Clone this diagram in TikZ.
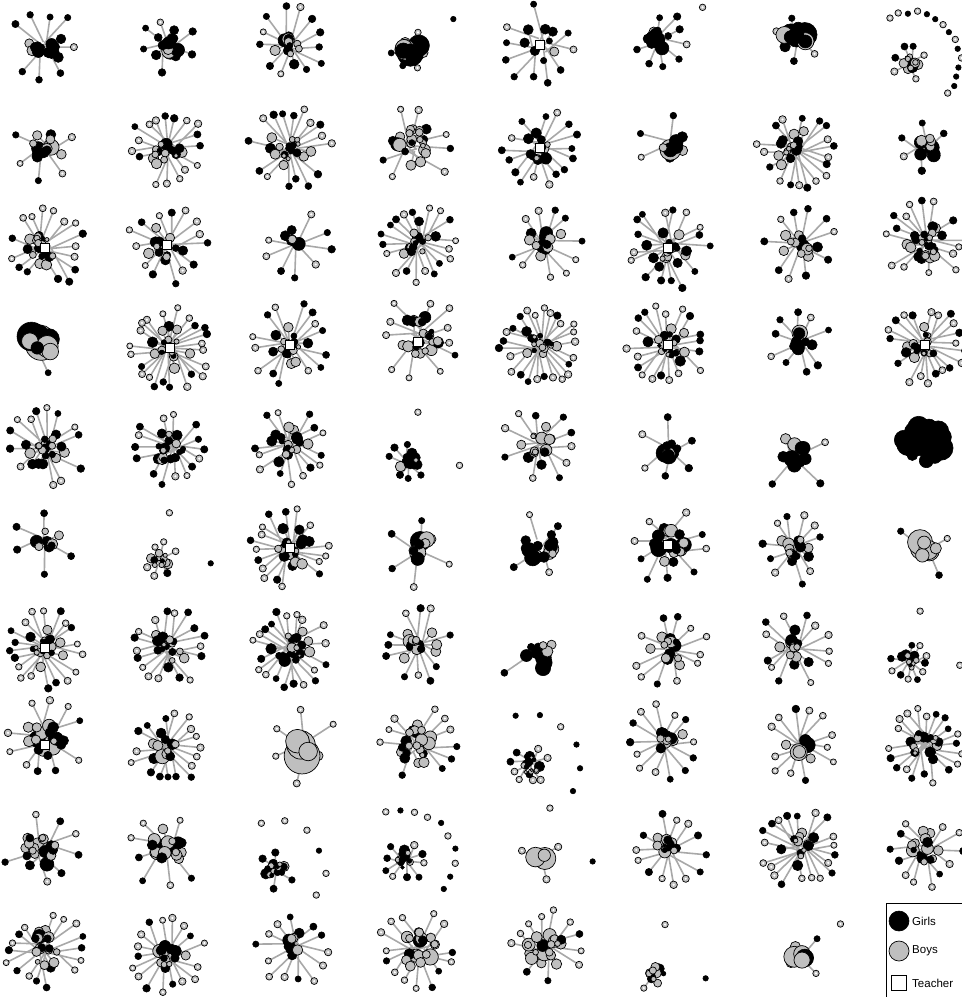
\documentclass[tikz,border=0pt]{standalone}
\usepackage{fontspec}
\setmainfont{Liberation Sans}
\definecolor{boyc}{gray}{0.75}
\definecolor{edgec}{gray}{0.66}
\tikzset{
 girl/.style={circle,fill=black,draw=black,line width=0.6pt,inner sep=0pt},
 boy/.style={circle,fill=boyc,draw=black,line width=0.7pt,inner sep=0pt},
 hole/.style={circle,fill=white,inner sep=0pt,minimum size=2.4pt},
 link/.style={draw=edgec,line width=1.6pt},
 teacher/.style={rectangle,fill=white,draw=black,line width=0.9pt,minimum size=8.5pt,inner sep=0pt},
 legbox/.style={draw=black,line width=1pt},
 legtext/.style={anchor=west,font=\fontsize{11.5}{13}\selectfont,inner sep=0pt},
}
\newcommand\leafcalc{%
   \pgfmathsetmacro\ang{(\i+0.4*rnd)*360/\NL+17}%
   \pgfmathsetmacro\rad{\NR*(0.74+0.3*rnd)}%
   \pgfmathtruncatemacro\inn{rnd<0.22}%
   \pgfmathsetmacro\ls{6+1.6*rnd}%
   \ifnum\inn=1 \pgfmathsetmacro\rad{\rad*0.5}\pgfmathsetmacro\ls{\ls+3}\fi
   \pgfmathsetmacro\hx{\NX+0.8*\ND*(rnd-0.5)}%
   \pgfmathsetmacro\hy{\NY+0.8*\ND*(rnd-0.5)}%
   \pgfmathsetmacro\lx{\NX+\rad*cos(\ang)}%
   \pgfmathsetmacro\ly{\NY-\rad*sin(\ang)}%
   \pgfmathtruncatemacro\col{rnd<\NG}%
}
% \net{cx}{cy}{leaves}{leaf dist}{core count}{core spread}{core max radius}{girl fraction}{isolates}
\newcommand\net[9]{%
 \def\NX{#1}\def\NY{#2}\def\NL{#3}\def\NR{#4}\def\ND{#6}\def\NG{#8}%
 \ifnum#3>0
 \pgfmathsetseed{\number\numexpr #1*13+#2*7+1\relax}%
 \foreach \i in {1,...,#3}{%
   \leafcalc
   \coordinate (h-#1-#2-\i) at (\hx,\hy);
   \coordinate (p-#1-#2-\i) at (\lx,\ly);
   \draw[link] (h-#1-#2-\i) -- (p-#1-#2-\i);
 }%
 \pgfmathsetseed{\number\numexpr #1*13+#2*7+1\relax}%
 \foreach \i in {1,...,#3}{%
   \leafcalc
   \ifnum\col=1
     \node[girl,minimum size=\ls pt] (l-#1-#2-\i) at (p-#1-#2-\i) {};
   \else
     \node[boy,minimum size=\ls pt] (l-#1-#2-\i) at (p-#1-#2-\i) {};
     \ifnum\inn=0 \node[hole] at (l-#1-#2-\i) {};\fi
   \fi
 }%
 \fi
 \ifnum#5>0
 \foreach \j in {1,...,#5}{%
   \pgfmathsetmacro\ca{360*rnd}%
   \pgfmathsetmacro\cr{#6*sqrt(rnd)}%
   \pgfmathsetmacro\cs{2*#7*(1-0.55*(\j-1)/#5)*(0.65+0.35*rnd)}%
   \pgfmathsetmacro\cx{#1+\cr*cos(\ca)}%
   \pgfmathsetmacro\cy{#2-\cr*sin(\ca)}%
   \pgfmathtruncatemacro\col{rnd<#8}%
   \ifnum\col=1
     \node[girl,minimum size=\cs pt] (k-#1-#2-\j) at (\cx,\cy) {};
   \else
     \node[boy,minimum size=\cs pt] (k-#1-#2-\j) at (\cx,\cy) {};
   \fi
 }%
 \fi
 \ifnum#9>0
 \foreach \k in {1,...,#9}{%
   \pgfmathsetmacro\ia{120-(\k-0.5)*165/#9}%
   \pgfmathsetmacro\ir{max(#4+24,48)+4*rnd}%
   \pgfmathsetmacro\ix{#1+\ir*cos(\ia)}%
   \pgfmathsetmacro\iy{#2-\ir*sin(\ia)}%
   \pgfmathtruncatemacro\col{rnd<0.5}%
   \ifnum\col=1
     \node[girl,minimum size=5.5pt] (i-#1-#2-\k) at (\ix,\iy) {};
   \else
     \node[boy,minimum size=6.5pt] (i-#1-#2-\k) at (\ix,\iy) {};
     \node[hole] at (i-#1-#2-\k) {};
   \fi
 }%
 \fi
}
\newcommand\teach[2]{\node[teacher] (t-#1-#2) at (#1,#2) {};}
\begin{document}
\begin{tikzpicture}[x=1pt,y=-1pt]
\useasboundingbox[fill=white] (0,0) rectangle (962,997);
% row 1
\net{45}{45}{12}{35}{14}{12}{8}{0.8}{0}
\net{167}{45}{9}{32}{10}{12}{8}{0.8}{0}
\net{290}{45}{14}{38}{10}{10}{7}{0.55}{0}
\net{413}{50}{7}{22}{8}{10}{14}{0.4}{1}
\net{540}{45}{14}{40}{4}{18}{6}{0.85}{0}\teach{540}{45}
\net{660}{40}{10}{28}{10}{10}{8}{0.8}{1}
\net{795}{40}{6}{24}{10}{12}{14}{0.8}{0}
\net{910}{62}{8}{18}{8}{7}{6}{0.3}{15}
% row 2
\net{45}{148}{8}{35}{10}{13}{9}{0.5}{0}
\net{167}{148}{20}{38}{14}{14}{6}{0.5}{0}
\net{290}{148}{22}{42}{14}{12}{5}{0.5}{0}
\net{413}{145}{12}{40}{18}{16}{7}{0.4}{0}
\net{540}{148}{18}{40}{12}{12}{6}{0.6}{0}\teach{540}{148}
\net{670}{145}{6}{32}{5}{8}{11}{0.6}{0}
\net{795}{150}{24}{40}{10}{10}{6}{0.5}{0}
\net{925}{148}{6}{30}{8}{12}{9}{0.5}{0}
% row 3
\net{45}{248}{20}{40}{14}{14}{6}{0.4}{0}\teach{45}{248}
\net{167}{245}{18}{40}{10}{12}{6}{0.5}{0}\teach{167}{245}
\net{295}{245}{10}{36}{3}{10}{8}{0.5}{0}
\net{418}{242}{22}{40}{14}{12}{6}{0.5}{0}
\net{545}{242}{14}{38}{8}{10}{8}{0.5}{0}
\net{668}{248}{24}{42}{12}{12}{6}{0.5}{0}\teach{668}{248}
\net{800}{245}{14}{36}{8}{10}{7}{0.5}{0}
\net{925}{242}{24}{40}{16}{14}{6}{0.4}{0}
% row 4
\net{40}{345}{3}{28}{9}{13}{16}{0.5}{0}
\net{170}{348}{30}{42}{10}{10}{5}{0.3}{0}\teach{170}{348}
\net{290}{345}{20}{42}{10}{10}{6}{0.5}{0}\teach{290}{345}
\net{418}{338}{14}{42}{20}{22}{7}{0.3}{0}\teach{418}{342}
\net{540}{345}{28}{40}{14}{12}{5}{0.5}{0}
\net{668}{345}{24}{40}{14}{12}{5}{0.4}{0}\teach{668}{345}
\net{800}{342}{10}{32}{8}{10}{8}{0.75}{0}
\net{925}{345}{24}{40}{12}{12}{5}{0.5}{0}\teach{925}{345}
% row 5
\net{45}{448}{22}{40}{12}{12}{6}{0.5}{0}
\net{170}{448}{18}{38}{16}{14}{6}{0.6}{0}
\net{290}{445}{20}{40}{14}{12}{6}{0.55}{0}
\net{408}{462}{10}{20}{14}{9}{5}{0.8}{2}
\net{540}{445}{14}{38}{12}{12}{7}{0.4}{0}
\net{668}{450}{6}{32}{8}{10}{10}{0.55}{0}
\net{795}{455}{4}{40}{12}{12}{9}{0.8}{0}
\net{925}{445}{0}{30}{22}{22}{15}{1}{0}
% row 6
\net{45}{540}{6}{35}{7}{10}{8}{0.7}{0}
\net{160}{560}{8}{18}{10}{8}{5}{0.3}{2}
\net{290}{548}{24}{40}{14}{12}{6}{0.5}{0}\teach{290}{548}
\net{418}{550}{6}{38}{8}{14}{10}{0.6}{0}
\net{540}{545}{4}{35}{14}{16}{10}{0.85}{0}
\net{668}{545}{10}{40}{18}{18}{9}{0.5}{0}\teach{668}{545}
\net{795}{548}{14}{36}{10}{10}{7}{0.5}{0}
\net{925}{548}{3}{30}{7}{12}{15}{0.4}{0}
% row 7
\net{45}{648}{24}{40}{14}{12}{5}{0.5}{0}\teach{45}{648}
\net{167}{648}{20}{40}{16}{14}{6}{0.5}{0}
\net{290}{648}{24}{40}{16}{14}{6}{0.5}{0}
\net{418}{645}{16}{38}{10}{10}{7}{0.5}{0}
\net{540}{655}{2}{40}{10}{14}{9}{0.6}{0}
\net{670}{650}{14}{38}{10}{12}{8}{0.4}{0}
\net{795}{648}{16}{38}{8}{10}{7}{0.4}{0}
\net{910}{662}{12}{20}{10}{8}{5}{0.4}{2}
% row 8
\net{45}{738}{12}{40}{16}{18}{9}{0.5}{0}\teach{45}{745}
\net{167}{748}{20}{38}{8}{10}{8}{0.4}{0}
\net{305}{745}{6}{38}{5}{12}{18}{0.2}{0}
\net{418}{745}{16}{40}{16}{16}{7}{0.4}{0}
\net{530}{765}{10}{20}{18}{10}{4}{0.6}{6}
\net{665}{742}{14}{38}{10}{10}{8}{0.5}{0}
\net{800}{745}{14}{36}{4}{8}{11}{0.3}{0}
\net{925}{745}{22}{38}{16}{14}{6}{0.5}{0}
% row 9
\net{40}{850}{10}{38}{16}{16}{8}{0.5}{0}
\net{167}{848}{10}{40}{14}{16}{9}{0.5}{0}
\net{275}{870}{6}{20}{14}{9}{5}{0.6}{6}
\net{405}{860}{10}{22}{12}{8}{5}{0.5}{10}
\net{540}{858}{3}{25}{3}{6}{14}{0.1}{2}
\net{668}{850}{14}{38}{10}{12}{7}{0.5}{0}
\net{800}{848}{24}{40}{10}{12}{6}{0.5}{0}
\net{925}{850}{14}{38}{14}{14}{7}{0.4}{0}
% row 10
\net{45}{950}{20}{40}{14}{16}{7}{0.3}{0}
\net{167}{955}{18}{38}{14}{14}{7}{0.4}{0}
\net{295}{948}{14}{38}{8}{12}{8}{0.4}{0}
\net{418}{950}{16}{40}{16}{18}{9}{0.3}{0}
\net{545}{948}{14}{38}{16}{20}{8}{0.2}{0}
\net{655}{975}{2}{18}{10}{9}{6}{0.4}{2}
\net{800}{955}{4}{25}{4}{6}{14}{0.2}{1}
% legend
\draw[legbox] (886,903) rectangle (975,1010);
\node[girl,minimum size=20pt] (lg) at (899,921) {};
\node[legtext] (lgt) at (912,921) {Girls};
\node[boy,minimum size=20pt] (lb) at (899,951) {};
\node[legtext] (lbt) at (912,951) {Boys};
\node[teacher,minimum size=15pt] (lt) at (899,983) {};
\node[legtext] (ltt) at (912,983) {Teacher};
\end{tikzpicture}
\end{document}
